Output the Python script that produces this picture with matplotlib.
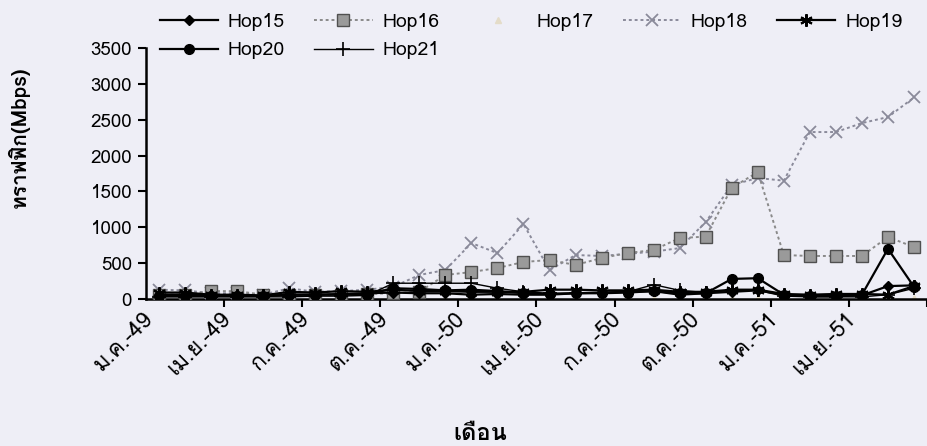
import matplotlib
matplotlib.use("Agg")
import matplotlib.pyplot as plt
from matplotlib import font_manager
from matplotlib.ft2font import FT2Font
from matplotlib.transforms import ScaledTranslation
import numpy as np

# ---------------- data ----------------
months = ["ม.ค.-49", "ก.พ.-49", "มี.ค.-49", "เม.ย.-49", "พ.ค.-49", "มิ.ย.-49",
          "ก.ค.-49", "ส.ค.-49", "ก.ย.-49", "ต.ค.-49", "พ.ย.-49", "ธ.ค.-49",
          "ม.ค.-50", "ก.พ.-50", "มี.ค.-50", "เม.ย.-50", "พ.ค.-50", "มิ.ย.-50",
          "ก.ค.-50", "ส.ค.-50", "ก.ย.-50", "ต.ค.-50", "พ.ย.-50", "ธ.ค.-50",
          "ม.ค.-51", "ก.พ.-51", "มี.ค.-51", "เม.ย.-51", "พ.ค.-51", "มิ.ย.-51"]

hop15 = [60, 60, 50, 50, 40, 60, 60, 70, 80, 90, 80, 80, 60, 70, 60,
         60, 80, 90, 100, 110, 60, 80, 100, 120, 60, 40, 40, 50, 180, 190]
hop16 = [60, 60, 110, 110, 60, 50, 60, 60, 70, 80, 100, 335, 376, 432, 516,
         544, 474, 571, 641, 683, 850, 870, 1550, 1770, 613, 600, 600, 600, 864, 725]
hop17 = [20, 20, 20, 20, 20, 20, 20, 20, 20, 20, 20, 20, 20, 20, 20,
         20, 20, 20, 20, 20, 20, 20, 20, 20, 20, 20, 20, 20, 20, 20]
hop18 = [130, 120, 80, 80, 60, 150, 100, 110, 130, 170, 335, 404, 780, 640, 1045,
         404, 613, 600, 630, 660, 710, 1073, 1590, 1687, 1650, 2328, 2328, 2453, 2537, 2810]
hop19 = [90, 90, 60, 60, 50, 100, 90, 110, 100, 130, 110, 110, 100, 100, 100,
         130, 130, 120, 120, 130, 100, 100, 130, 130, 70, 60, 70, 70, 60, 180]
hop20 = [40, 40, 40, 40, 40, 60, 60, 60, 60, 150, 140, 120, 130, 110, 80,
         70, 80, 80, 90, 110, 80, 80, 280, 290, 60, 40, 40, 60, 700, 170]
hop21 = [30, 30, 30, 30, 30, 30, 40, 40, 50, 220, 220, 220, 220, 150, 100,
         80, 80, 90, 100, 200, 120, 90, 120, 120, 40, 30, 30, 30, 60, 150]

yticks = [0, 500, 1000, 1500, 2000, 2500, 3000, 3500]
ylabel = "ทราฟฟิก(Mbps)"
xlabel = "เดือน"

# ---------------- fonts ----------------
thai_font = None
for fe in font_manager.fontManager.ttflist:
    try:
        cmap = FT2Font(fe.fname).get_charmap()
        if 0x0E01 in cmap and 0x0E40 in cmap:
            thai_font = fe.name
            break
    except Exception:
        pass
families = ([thai_font] if thai_font else []) + ["DejaVu Sans"]
plt.rcParams["font.family"] = families

# ---------------- figure ----------------
W, H = 928, 446
fig = plt.figure(figsize=(W / 100, H / 100), dpi=100)
bg = "#eeeef6"
fig.patch.set_facecolor(bg)
ax = fig.add_axes([146 / W, 1 - 299 / H, (927 - 146) / W, (299 - 48) / H])
ax.set_facecolor(bg)

x = np.arange(len(months))
lw = 1.6
l15, = ax.plot(x, hop15, color="black", lw=lw, marker="D", ms=5, label="Hop15", zorder=5)
l16, = ax.plot(x, hop16, color="#8a8a8a", lw=1.4, ls=(0, (1.5, 1.5)), marker="s", ms=8,
               mfc="#9a9a9a", mec="#505050", label="Hop16", zorder=4)
l17, = ax.plot(x, hop17, color="#e4dcc8", lw=0, marker="^", ms=4, mfc="#e4dcc8",
               mec="#e4dcc8", label="Hop17", zorder=2)
l18, = ax.plot(x, hop18, color="#8a8a9a", lw=1.4, ls=(0, (1.5, 1.5)), marker="x", ms=8,
               mew=1.3, label="Hop18", zorder=3)
l19, = ax.plot(x, hop19, color="black", lw=lw, marker=(6, 2, 0), ms=9, mew=1.5, label="Hop19", zorder=5)
l20, = ax.plot(x, hop20, color="black", lw=lw, marker="o", ms=7, label="Hop20", zorder=6)
l21, = ax.plot(x, hop21, color="black", lw=1.0, marker="+", ms=10, mew=1.2, label="Hop21", zorder=5)

ax.set_xlim(-0.5, len(months) - 0.5)
ax.set_ylim(0, 3500)
ax.set_yticks(yticks)
ax.set_yticklabels([str(v) for v in yticks], fontsize=13.5)
ax.tick_params(axis="y", length=6, width=1.5, pad=4, direction="out")

lab_idx = list(range(0, len(months), 3))
ax.set_xticks(lab_idx)
ax.set_xticklabels([months[i] for i in lab_idx], rotation=45, ha="right", va="center",
                   rotation_mode="anchor", fontsize=16)
ax.tick_params(axis="x", which="major", length=0, pad=12)
shift = ScaledTranslation(-0.09, 0, fig.dpi_scale_trans)
for lab in ax.get_xticklabels():
    lab.set_transform(lab.get_transform() + shift)
ax.set_xticks([i - 0.5 for i in range(3, len(months) + 1, 3)], minor=True)
ax.tick_params(axis="x", which="minor", length=6, width=1.5, direction="out")

for s in ["top", "right"]:
    ax.spines[s].set_visible(False)
for s in ["left", "bottom"]:
    ax.spines[s].set_linewidth(1.8)

fig.text(19 / W, 1 - 137 / H, ylabel, fontsize=15, fontweight="bold", rotation=90,
         ha="center", va="center")
fig.text(480 / W, 1 - 433 / H, xlabel, fontsize=17, fontweight="bold", ha="center", va="center")

handles = [l15, l20, l16, l21, l17, l18, l19]
fig.legend(handles, [h.get_label() for h in handles], ncol=5, loc="upper left",
           bbox_to_anchor=(152 / W, 1 - 5 / H), frameon=False, fontsize=14,
           handlelength=3.0, handletextpad=0.5, columnspacing=1.5, labelspacing=0.55,
           borderaxespad=0)

fig.savefig("out.png", dpi=100, facecolor=bg)
